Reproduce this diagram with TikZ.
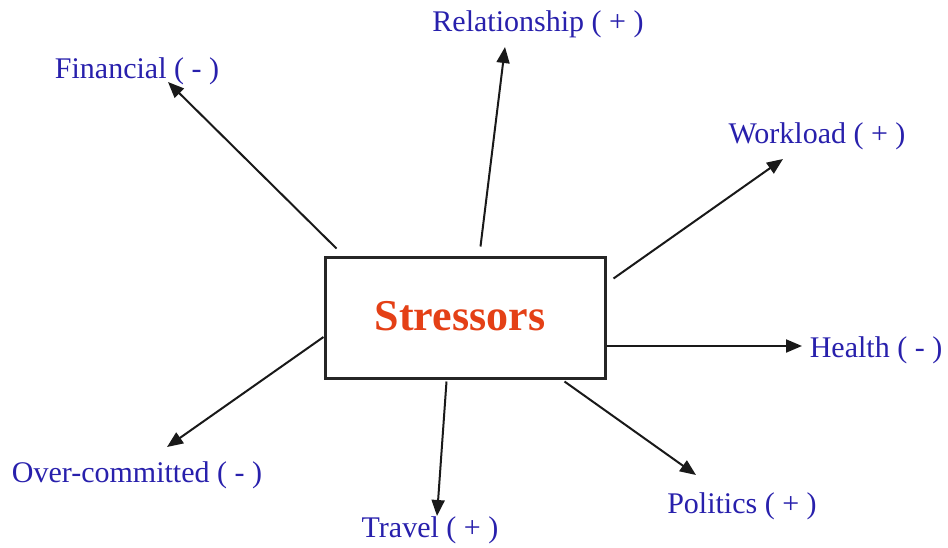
\documentclass[tikz,border=0pt]{standalone}
\usepackage{fontspec}
\setmainfont{Liberation Serif}
\usetikzlibrary{arrows.meta,calc}
\definecolor{lblblue}{RGB}{40,32,172}
\definecolor{stressred}{RGB}{228,64,22}
\tikzset{
  lbl/.style    ={inner sep=0pt, text=lblblue, font=\fontsize{15}{18}\selectfont},
  centerbox/.style ={draw=black!85, line width=1.5pt, minimum width=140pt, minimum height=60.5pt,
                  inner sep=0pt, text=stressred, font=\fontsize{22}{26}\selectfont\bfseries},
  spoke/.style  ={-{Triangle[length=8pt,width=6.5pt]}, line width=1pt, draw=black!90},
}
\begin{document}
\begin{tikzpicture}[x=0.5pt, y=-0.5pt]
  \useasboundingbox (0,0) rectangle (948,547);

  % ---- centre box ----
  \node[centerbox] (box) at (465,317.5) {};
  \node[text=stressred, font=\fontsize{22}{26}\selectfont\bfseries, inner sep=0pt]
    (title) at ($(box.center)+(-5,-1)$) {Stressors};

  % ---- labels ----
  \node[lbl] (fin)  at (137,71)  {Financial ( - )};
  \node[lbl] (rel)  at (538,24)  {Relationship ( + )};
  \node[lbl] (work) at (817,136) {Workload ( + )};
  \node[lbl] (hlth) at (876,350) {Health ( - )};
  \node[lbl] (pol)  at (742,506) {Politics ( + )};
  \node[lbl] (trv)  at (430,530) {Travel ( + )};
  \node[lbl] (over) at (137,475) {Over-committed ( - )};

  % ---- spoke ends ----
  \coordinate (finS)  at ($(box.north west)+(13,-7)$);
  \coordinate (finT)  at (168,82);
  \coordinate (relS)  at ($(box.north west)+(157,-9)$);
  \coordinate (relT)  at (505,47);
  \coordinate (workS) at ($(box.north east)+(7,23)$);
  \coordinate (workT) at (783,159);
  \coordinate (hlthS) at (box.east |- 0,346);
  \coordinate (hlthT) at (802,346);
  \coordinate (polS)  at ($(box.south east)+(-42,2)$);
  \coordinate (polT)  at (696,475);
  \coordinate (trvS)  at ($(box.south west)+(123,2)$);
  \coordinate (trvT)  at (437,516);
  \coordinate (overS) at (box.west |- 0,337);
  \coordinate (overT) at (167,447);

  % ---- arrows ----
  \draw[spoke] (finS)  -- (finT);
  \draw[spoke] (relS)  -- (relT);
  \draw[spoke] (workS) -- (workT);
  \draw[spoke] (hlthS) -- (hlthT);
  \draw[spoke] (polS)  -- (polT);
  \draw[spoke] (trvS)  -- (trvT);
  \draw[spoke] (overS) -- (overT);

\end{tikzpicture}
\end{document}
